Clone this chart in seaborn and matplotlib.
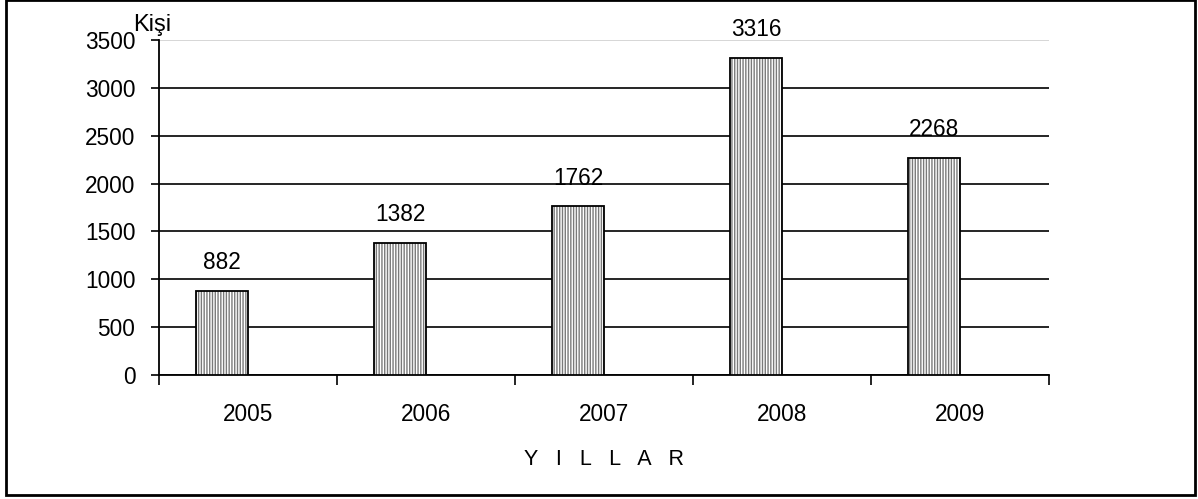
import matplotlib
matplotlib.use("Agg")
import matplotlib.pyplot as plt
import seaborn as sns
import pandas as pd
import numpy as np
from matplotlib.patches import Rectangle

years = ["2005", "2006", "2007", "2008", "2009"]
counts = [882, 1382, 1762, 3316, 2268]
yticks = [0, 500, 1000, 1500, 2000, 2500, 3000, 3500]

sns.set_theme(style="white")
plt.rcParams['font.family'] = ['Liberation Sans', 'DejaVu Sans']
plt.rcParams['hatch.linewidth'] = 1.0
plt.rcParams['text.color'] = 'black'
plt.rcParams['xtick.color'] = 'black'
plt.rcParams['ytick.color'] = 'black'
plt.rcParams['axes.labelcolor'] = 'black'

FS = 16.3

# Excel-style layout: a second, empty series reserves the right half of each slot
df = pd.DataFrame({
    "year": years * 2,
    "count": counts + [np.nan] * len(years),
    "series": ["Kişi"] * len(years) + ["empty"] * len(years),
})
hue_order = ["Kişi", "empty"]

fig = plt.figure(figsize=(11.98, 4.99), dpi=100)
ax = fig.add_axes([159/1198, 1-375/499, (1049-159)/1198, (375-40)/499])

# hatched fill
sns.barplot(data=df, x="year", y="count", hue="series", hue_order=hue_order,
            palette=["white", "white"], ax=ax, width=0.58, legend=False,
            edgecolor="#7a7a7a", linewidth=0, hatch="||||||", zorder=3)
# black outline
sns.barplot(data=df, x="year", y="count", hue="series", hue_order=hue_order,
            palette=["white", "white"], ax=ax, width=0.58, legend=False,
            fill=False, edgecolor="black", linewidth=1.3, zorder=4)

ax.set_ylim(0, 3500)
ax.set_xlim(-0.5, 4.5)
ax.set_yticks(yticks)
ax.set_yticklabels([str(v) for v in yticks], fontsize=FS)
ax.tick_params(axis='y', which='major', length=6, width=1.2, color='black',
               left=True, direction='out', pad=11, labelcolor='black')
ax.set_xticks(range(len(years)))
ax.set_xticklabels(years, fontsize=FS)
ax.tick_params(axis='x', which='major', length=0, pad=20, labelcolor='black')
# category boundary ticks
ax.set_xticks([i - 0.5 for i in range(len(years) + 1)], minor=True)
ax.tick_params(axis='x', which='minor', length=7, width=1.2, color='black',
               bottom=True, direction='out')

for v in yticks:
    ax.axhline(v, color='#d0d0d0' if v == 3500 else 'black',
               linewidth=1.2, zorder=1)

for s in ['top', 'right']:
    ax.spines[s].set_visible(False)
for s in ['left', 'bottom']:
    ax.spines[s].set_color('black')
    ax.spines[s].set_linewidth(1.3)

# value labels on the outline container of the real series
outline_container = ax.containers[-2]
ax.bar_label(outline_container, labels=[str(v) for v in counts], padding=12,
             fontsize=FS, color='black')

ax.set_xlabel("Y   I   L   L   A   R", fontsize=15.5, labelpad=17, color='black')
ax.set_ylabel("")
fig.text(133/1198, 1-31/499, "Kişi", fontsize=17, ha='left', va='baseline',
         color='black')

fig.patches.append(Rectangle((6/1198, 4/499), (1195-6)/1198, (499-4)/499,
                             transform=fig.transFigure, fill=False,
                             edgecolor='black', linewidth=2, zorder=10))

fig.savefig("out.png", dpi=100)
